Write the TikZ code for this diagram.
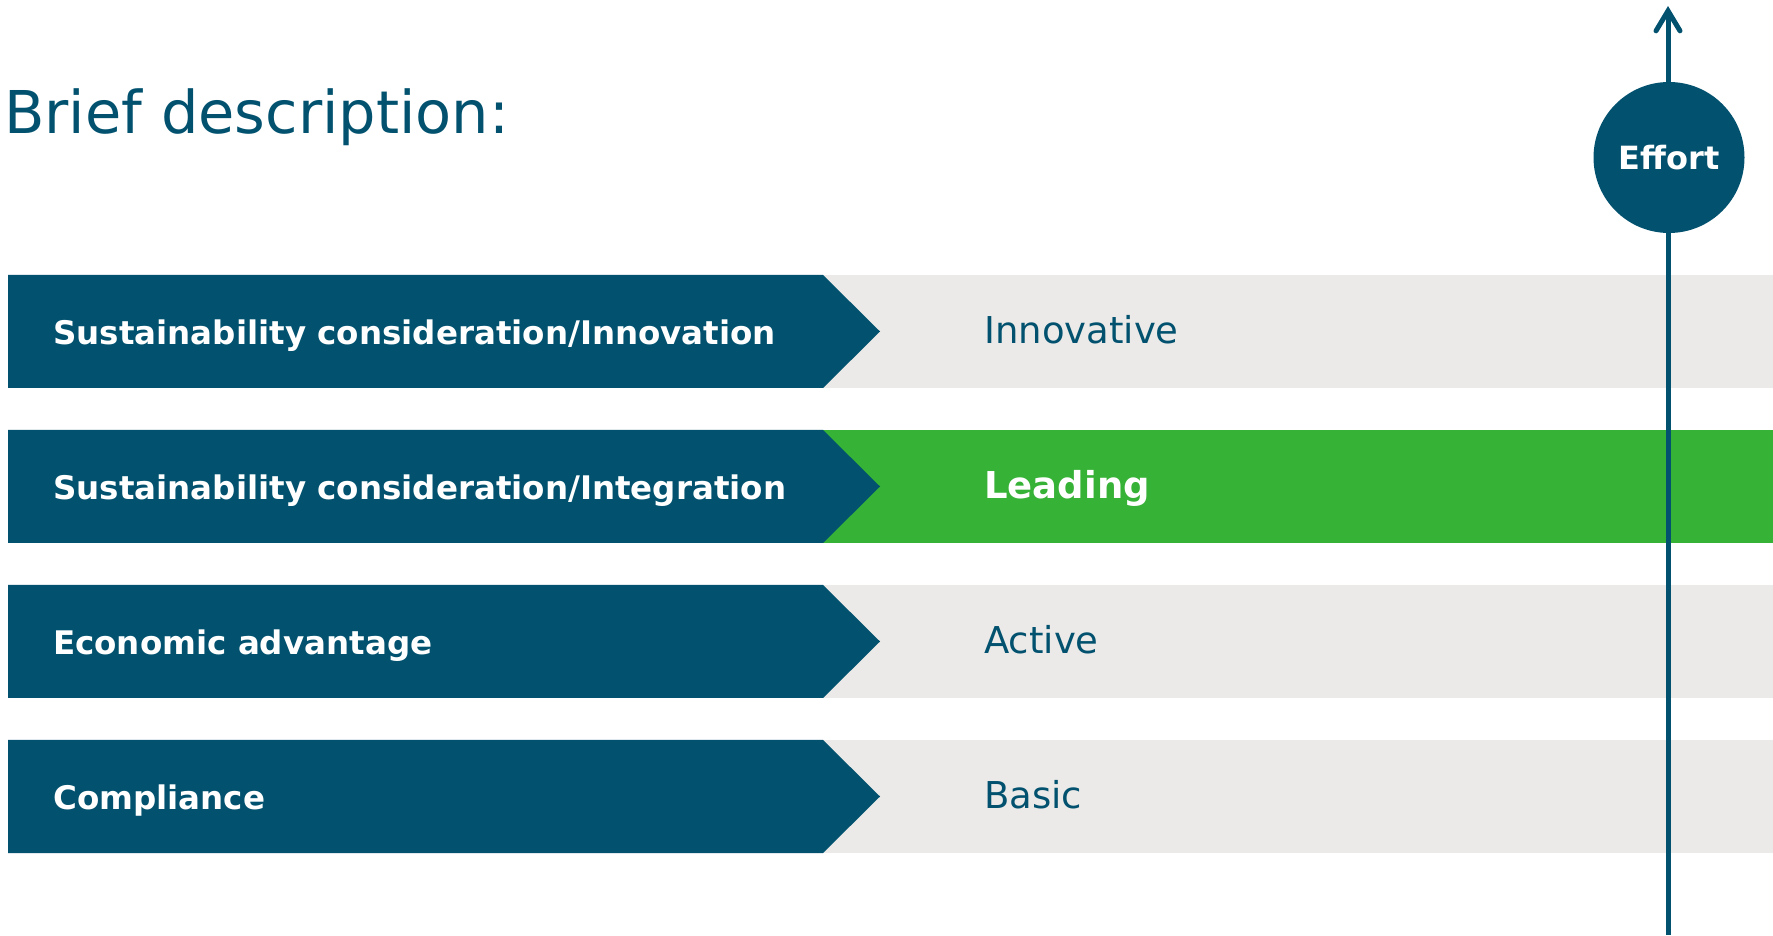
\documentclass[tikz,border=0pt]{standalone}
\usepackage{fontspec}
\setmainfont{DejaVu Sans}
\usetikzlibrary{arrows.meta}

\definecolor{effortblue}{HTML}{02526F}
\definecolor{leadgreen}{HTML}{36B236}
\definecolor{levelgrey}{HTML}{ECEAE8}

\tikzset{
  barlabel/.style={anchor=base west, inner sep=0pt, text=white, font=\fontsize{32.5}{39}\selectfont\bfseries},
  levellabel/.style={anchor=base west, inner sep=0pt, text=effortblue, font=\fontsize{37}{44}\selectfont},
  leadlabel/.style={anchor=base west, inner sep=0pt, text=white, font=\fontsize{37}{44}\selectfont\bfseries},
  effortaxis/.style={draw=effortblue, line width=5pt, -{Straight Barb[length=20pt,width=24pt,line cap=round]}},
}

\begin{document}
\begin{tikzpicture}[x=1pt,y=1pt]
  \useasboundingbox (0,0) rectangle (1773,935);

  % Title
  \node[anchor=base west, inner sep=0pt, text=effortblue, font=\fontsize{59}{70}\selectfont] (title) at (4,801) {Brief description:};

  % Rows: top edge, name, label, level, fill, level style
  \foreach \top/\name/\lab/\lev/\col/\sty in {
      660/innov/{Sustainability consideration/Innovation}/Innovative/levelgrey/levellabel,
      505/integ/{Sustainability consideration/Integration}/Leading/leadgreen/leadlabel,
      350/econ/Economic advantage/Active/levelgrey/levellabel,
      195/compl/Compliance/Basic/levelgrey/levellabel}{
    \fill[\col] (823,\top) rectangle (1773,\top-113);
    \fill[effortblue] (8,\top) -- (823,\top) -- (880,\top-56.5) -- (823,\top-113) -- (8,\top-113) -- cycle;
    \node[barlabel] (\name-label) at (53,\top-70) {\lab};
    \node[\sty] (\name-level) at (984,\top-69) {\lev};
  }

  % Effort axis
  \coordinate (axisbottom) at (1668,0);
  \coordinate (axistop) at (1668,929);
  \draw[effortaxis] (axisbottom) -- (axistop);
  \node[circle, fill=effortblue, minimum size=151pt, inner sep=0pt, text=white, font=\fontsize{32}{38}\selectfont\bfseries] (effort) at (1669,777.5) {Effort};
\end{tikzpicture}
\end{document}
